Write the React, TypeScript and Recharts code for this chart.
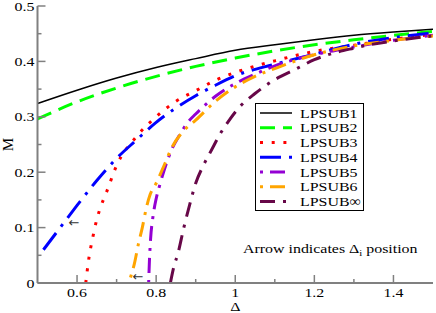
import { ComposedChart, Line, Scatter, XAxis, YAxis, Customized, Label } from 'recharts';

const FONT = '"Liberation Serif", "Times New Roman", serif';

// Delta (x) and M (y)
const lpsub1 = [
  { d: 0.5, m: 0.324 }, { d: 0.6, m: 0.348 }, { d: 0.7, m: 0.37 }, { d: 0.8, m: 0.389 },
  { d: 0.9, m: 0.405 }, { d: 1.0, m: 0.42 }, { d: 1.1, m: 0.43 }, { d: 1.2, m: 0.439 },
  { d: 1.3, m: 0.447 }, { d: 1.4, m: 0.453 }, { d: 1.5, m: 0.458 },
];

const lpsub2 = [
  { d: 0.5, m: 0.296 }, { d: 0.6, m: 0.327 }, { d: 0.7, m: 0.352 }, { d: 0.8, m: 0.373 },
  { d: 0.9, m: 0.391 }, { d: 1.0, m: 0.406 }, { d: 1.1, m: 0.419 }, { d: 1.2, m: 0.43 },
  { d: 1.3, m: 0.439 }, { d: 1.4, m: 0.447 }, { d: 1.5, m: 0.454 },
];

const lpsub3 = [
  { d: 0.622, m: 0.0 }, { d: 0.63, m: 0.045 }, { d: 0.64, m: 0.083 }, { d: 0.65, m: 0.115 },
  { d: 0.66, m: 0.138 }, { d: 0.675, m: 0.165 }, { d: 0.7, m: 0.212 }, { d: 0.75, m: 0.264 },
  { d: 0.8, m: 0.3 }, { d: 0.85, m: 0.328 }, { d: 0.9, m: 0.347 }, { d: 0.95, m: 0.366 },
  { d: 1.0, m: 0.38 }, { d: 1.1, m: 0.401 }, { d: 1.2, m: 0.418 }, { d: 1.3, m: 0.429 },
  { d: 1.4, m: 0.44 }, { d: 1.5, m: 0.449 },
];

const lpsub4 = [
  { d: 0.515, m: 0.06 }, { d: 0.55, m: 0.093 }, { d: 0.6, m: 0.14 }, { d: 0.65, m: 0.185 },
  { d: 0.7, m: 0.225 }, { d: 0.75, m: 0.258 }, { d: 0.8, m: 0.29 }, { d: 0.85, m: 0.316 },
  { d: 0.9, m: 0.338 }, { d: 0.95, m: 0.357 }, { d: 1.0, m: 0.374 }, { d: 1.1, m: 0.395 },
  { d: 1.2, m: 0.413 }, { d: 1.3, m: 0.431 }, { d: 1.4, m: 0.443 }, { d: 1.5, m: 0.451 },
];

const lpsub5 = [
  { d: 0.781, m: 0.0 }, { d: 0.783, m: 0.04 }, { d: 0.786, m: 0.08 }, { d: 0.792, m: 0.12 },
  { d: 0.8, m: 0.152 }, { d: 0.808, m: 0.174 }, { d: 0.82, m: 0.203 }, { d: 0.84, m: 0.242 },
  { d: 0.86, m: 0.268 }, { d: 0.88, m: 0.29 }, { d: 0.9, m: 0.305 }, { d: 0.95, m: 0.337 },
  { d: 1.0, m: 0.36 }, { d: 1.05, m: 0.377 }, { d: 1.1, m: 0.392 }, { d: 1.2, m: 0.412 },
  { d: 1.3, m: 0.426 }, { d: 1.4, m: 0.438 }, { d: 1.5, m: 0.447 },
];

const lpsub6 = [
  { d: 0.735, m: 0.01 }, { d: 0.745, m: 0.035 }, { d: 0.755, m: 0.07 }, { d: 0.765, m: 0.1 },
  { d: 0.775, m: 0.135 }, { d: 0.785, m: 0.16 }, { d: 0.8, m: 0.18 }, { d: 0.82, m: 0.212 },
  { d: 0.84, m: 0.245 }, { d: 0.87, m: 0.275 }, { d: 0.9, m: 0.294 }, { d: 0.95, m: 0.328 },
  { d: 1.0, m: 0.354 }, { d: 1.05, m: 0.373 }, { d: 1.1, m: 0.387 }, { d: 1.2, m: 0.412 },
  { d: 1.3, m: 0.428 }, { d: 1.4, m: 0.438 }, { d: 1.5, m: 0.446 },
];

const lpsubInf = [
  { d: 0.836, m: 0.0 }, { d: 0.845, m: 0.03 }, { d: 0.855, m: 0.053 }, { d: 0.87, m: 0.1 },
  { d: 0.885, m: 0.142 }, { d: 0.9, m: 0.18 }, { d: 0.92, m: 0.213 }, { d: 0.94, m: 0.24 },
  { d: 0.96, m: 0.267 }, { d: 0.985, m: 0.294 }, { d: 1.01, m: 0.317 }, { d: 1.05, m: 0.342 },
  { d: 1.1, m: 0.367 }, { d: 1.15, m: 0.385 }, { d: 1.2, m: 0.403 }, { d: 1.3, m: 0.424 },
  { d: 1.4, m: 0.437 }, { d: 1.5, m: 0.446 },
];

// Delta_i positions marked with arrows
const arrowPoints = [
  { d: 0.592, m: 0.109 },
  { d: 0.754, m: 0.011 },
];

const deltaTicks = [0.6, 0.7, 0.8, 0.9, 1.0, 1.1, 1.2, 1.3, 1.4];
const deltaLabels = ['0.6', '', '0.8', '', '1', '', '1.2', '', '1.4'];
const mTicks = [0, 0.05, 0.1, 0.15, 0.2, 0.25, 0.3, 0.35, 0.4, 0.45, 0.5];
const mLabels = ['0', '', '0.1', '', '0.2', '', '0.3', '', '0.4', '', '0.5'];

const series = [
  { name: 'LPSUB1', data: lpsub1, color: '#000000', width: 1.5, dash: undefined },
  { name: 'LPSUB2', data: lpsub2, color: '#00ff00', width: 3, dash: '15 8' },
  { name: 'LPSUB3', data: lpsub3, color: '#ff0000', width: 3, dash: '3 8.7' },
  { name: 'LPSUB4', data: lpsub4, color: '#0000ff', width: 3, dash: '21 8 3 8' },
  { name: 'LPSUB5', data: lpsub5, color: '#9400d3', width: 3, dash: '3 7 15 7' },
  { name: 'LPSUB6', data: lpsub6, color: '#ffa500', width: 3, dash: '3 7 15 7' },
  { name: 'LPSUB\u221e', data: lpsubInf, color: '#670748', width: 3, dash: '15 8 3 8' },
];

const AXIS = '#808080';
const TEXT_SIZE = 13.5;
const STRETCH = 1.18;

// the original figure's lettering is a bit wide, so stretch it horizontally
function WideText({ x, y, anchor = 'start', size = TEXT_SIZE, children }: any) {
  return (
    <text
      transform={`translate(${x} ${y}) scale(${STRETCH} 1)`}
      x={0}
      y={0}
      textAnchor={anchor}
      fontSize={size}
      fontFamily={FONT}
      fill="#000"
    >
      {children}
    </text>
  );
}

function BottomTick({ x, y, index }: any) {
  const label = deltaLabels[index];
  const len = label ? 8 : 4;
  return (
    <g>
      <line x1={x} y1={y} x2={x} y2={y - len} stroke={AXIS} strokeWidth={1.5} />
      {label && (
        <WideText x={x} y={y + 14} anchor="middle">
          {label}
        </WideText>
      )}
    </g>
  );
}

function TopTick({ x, y, index }: any) {
  const len = deltaLabels[index] ? 8 : 4;
  return <line x1={x} y1={y} x2={x} y2={y + len} stroke={AXIS} strokeWidth={1.5} />;
}

function LeftTick({ x, y, index }: any) {
  const label = mLabels[index];
  const len = label ? 8 : 4;
  return (
    <g>
      <line x1={x} y1={y} x2={x + len} y2={y} stroke={AXIS} strokeWidth={1.5} />
      {label && (
        <WideText x={x - 3} y={y + 4.5} anchor="end">
          {label}
        </WideText>
      )}
    </g>
  );
}

function RightTick({ x, y, index }: any) {
  const len = mLabels[index] ? 8 : 4;
  return <line x1={x} y1={y} x2={x - len} y2={y} stroke={AXIS} strokeWidth={1.5} />;
}

function ArrowMark({ cx, cy }: any) {
  return (
    <text x={cx} y={cy + 4.5} textAnchor="middle" fontSize={13} fontFamily="DejaVu Sans" fill="#333">
      {'\u2190'}
    </text>
  );
}

function MLabel({ viewBox }: any) {
  const cx = viewBox.x + 8;
  const cy = viewBox.y + viewBox.height / 2;
  return (
    <text
      x={cx}
      y={cy}
      transform={`rotate(-90 ${cx} ${cy})`}
      textAnchor="middle"
      dominantBaseline="central"
      fontSize={15}
      fontFamily={FONT}
      fill="#000"
    >
      M
    </text>
  );
}

function DeltaLabel({ viewBox }: any) {
  return (
    <WideText x={viewBox.x + viewBox.width / 2} y={viewBox.y + viewBox.height - 2} anchor="middle">
      {'\u0394'}
    </WideText>
  );
}

function LegendBox() {
  const left = 255.5;
  const top = 103.5;
  const rowGap = 14.75;
  return (
    <g>
      <rect x={left} y={top} width={108} height={107} fill="#fff" stroke="#000" strokeWidth={1} />
      {series.map((s, i) => {
        const yy = 113 + i * rowGap;
        return (
          <g key={s.name}>
            <line
              x1={260}
              x2={292}
              y1={yy}
              y2={yy}
              stroke={s.color}
              strokeWidth={s.width}
              strokeDasharray={s.dash}
            />
            <WideText x={300} y={yy + 4.5}>
              {s.name}
            </WideText>
          </g>
        );
      })}
    </g>
  );
}

function Note() {
  return (
    <WideText x={243} y={252.5}>
      Arrow indicates {'\u0394'}
      <tspan fontSize={9} dy={3.5}>i</tspan>
      <tspan dy={-3.5}> position</tspan>
    </WideText>
  );
}

export default function App() {
  return (
    <div style={{ position: 'absolute', left: 0, top: 0, background: '#fff' }}>
      <ComposedChart
        width={436}
        height={313}
        margin={{ top: 6, right: 3, bottom: 0, left: 0 }}
        style={{ fontFamily: FONT }}
      >
        <XAxis
          xAxisId={0}
          dataKey="d"
          type="number"
          domain={[0.5, 1.5]}
          ticks={deltaTicks}
          interval={0}
          allowDataOverflow
          height={30}
          tickSize={0}
          tickMargin={0}
          tickLine={false}
          axisLine={{ stroke: AXIS, strokeWidth: 2 }}
          tick={<BottomTick />}
        >
          <Label content={<DeltaLabel />} />
        </XAxis>
        <XAxis
          xAxisId="top"
          orientation="top"
          dataKey="d"
          type="number"
          domain={[0.5, 1.5]}
          ticks={deltaTicks}
          interval={0}
          allowDataOverflow
          height={0}
          tickSize={0}
          tickMargin={0}
          tickLine={false}
          axisLine={{ stroke: AXIS, strokeWidth: 2 }}
          tick={<TopTick />}
        />
        <YAxis
          yAxisId={0}
          type="number"
          domain={[0, 0.5]}
          ticks={mTicks}
          interval={0}
          allowDataOverflow
          width={37.5}
          tickSize={0}
          tickMargin={0}
          tickLine={false}
          axisLine={{ stroke: AXIS, strokeWidth: 2 }}
          tick={<LeftTick />}
        >
          <Label content={<MLabel />} />
        </YAxis>
        <YAxis
          yAxisId="right"
          orientation="right"
          type="number"
          domain={[0, 0.5]}
          ticks={mTicks}
          interval={0}
          allowDataOverflow
          width={0}
          tickSize={0}
          tickMargin={0}
          tickLine={false}
          axisLine={{ stroke: AXIS, strokeWidth: 2 }}
          tick={<RightTick />}
        />
        {series.map((s) => (
          <Line
            key={s.name}
            data={s.data}
            dataKey="m"
            type="monotone"
            stroke={s.color}
            strokeWidth={s.width}
            strokeDasharray={s.dash}
            dot={false}
            activeDot={false}
            isAnimationActive={false}
          />
        ))}
        <Scatter data={arrowPoints} dataKey="m" shape={<ArrowMark />} isAnimationActive={false} />
        <Customized component={<Note />} />
        <Customized component={<LegendBox />} />
      </ComposedChart>
    </div>
  );
}
